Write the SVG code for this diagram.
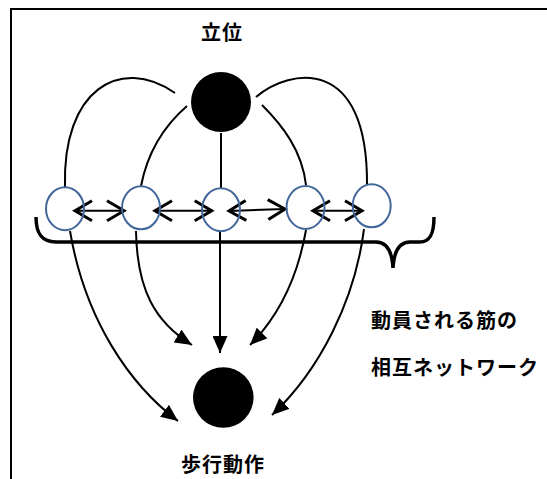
<svg xmlns="http://www.w3.org/2000/svg" width="547" height="479" viewBox="0 0 547 479">
<defs>
<style>
.lbl{font-family:"Noto Sans CJK JP","Noto Sans CJK SC",sans-serif;font-weight:bold;font-size:20px;letter-spacing:1px;fill:#000}
.mus{fill:none;stroke:#41669a;stroke-width:2}
.hub{fill:#000}
.ln{fill:none;stroke:#000;stroke-width:2}
.arr{fill:none;stroke:#000;stroke-width:2;marker-end:url(#tri)}
.dbl{fill:none;stroke:#000;stroke-width:2;marker-start:url(#chev);marker-end:url(#chev)}
</style>
<marker id="tri" markerUnits="userSpaceOnUse" viewBox="0 0 17 15" refX="17" refY="7.5" markerWidth="17" markerHeight="15" orient="auto">
<path d="M0,0 L17,7.5 L0,15 z" fill="#000"/>
</marker>
<marker id="chev" markerUnits="userSpaceOnUse" viewBox="-21 -13 24 26" refX="0" refY="0" markerWidth="24" markerHeight="26" orient="auto-start-reverse">
<path d="M-17,-10 L0,0 L-17,10" fill="none" stroke="#000" stroke-width="3"/>
</marker>
</defs>
<rect width="547" height="479" fill="#fff"/>
<path d="M11,479 V9 H547" fill="none" stroke="#000" stroke-width="2"/>

<g id="connectors">
<path class="ln" d="M65,187 C62,90 120,55 175,93"/>
<path class="ln" d="M141,186 C148,150 165,125 187,106"/>
<path class="ln" d="M221,133 V188"/>
<path class="ln" d="M262,105 C282,125 302,150 306,185"/>
<path class="ln" d="M256,97 C290,68 368,55 367,185"/>

<path class="dbl" d="M75,210.7 H124"/>
<path class="dbl" d="M155,210.7 H211.7"/>
<path class="dbl" d="M229,211 L285,209"/>
<path class="dbl" d="M313,210.7 H362"/>

<path class="arr" d="M70,231 C85,320 130,385 178,421"/>
<path class="arr" d="M136,231 C137,290 155,322 192,345"/>
<path class="arr" d="M220,232 V353"/>
<path class="arr" d="M306,230 C298,275 280,315 250,345"/>
<path class="arr" d="M364,229 C355,300 320,370 272,415"/>
</g>

<g id="brace">
<path d="M36,217 C36,234 42,242 56,242 H376 C386,242 392,250 393,268 C394,250 400,242 410,242 H420 C430,242 434,234 434,217" fill="none" stroke="#000" stroke-width="3.5"/>
</g>

<g id="standing">
<circle class="hub" cx="221" cy="102" r="30"/>
<text class="lbl" x="222" y="40" text-anchor="middle">立位</text>
</g>
<g id="m1"><ellipse class="mus" cx="65" cy="208.7" rx="19" ry="21.5"/></g>
<g id="m2"><ellipse class="mus" cx="141" cy="207.8" rx="19" ry="21.5"/></g>
<g id="m3"><ellipse class="mus" cx="221" cy="209.7" rx="19" ry="21.5"/></g>
<g id="m4"><ellipse class="mus" cx="305.5" cy="207.5" rx="19" ry="21.5"/></g>
<g id="m5"><ellipse class="mus" cx="371.7" cy="205.8" rx="19" ry="21.5"/></g>

<g id="walking">
<circle class="hub" cx="223.3" cy="397.5" r="30.3"/>
<text class="lbl" x="223" y="472" text-anchor="middle">歩行動作</text>
</g>
<g id="network-label">
<text class="lbl" x="371" y="328">動員される筋の</text>
<text class="lbl" x="371" y="375">相互ネットワーク</text>
</g>
</svg>
